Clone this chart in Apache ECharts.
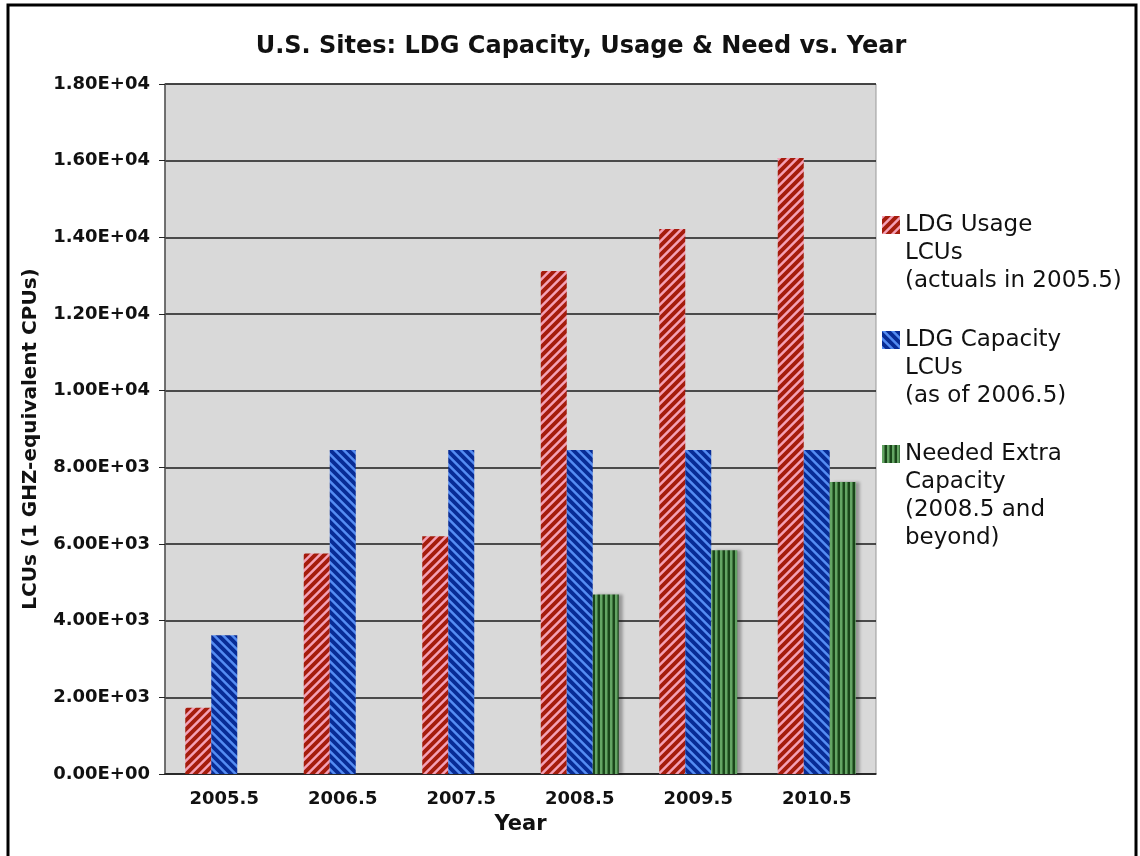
<!DOCTYPE html>
<html>
<head>
<meta charset="utf-8">
<script src="https://cdn.jsdelivr.net/npm/echarts@6/dist/echarts.min.js"></script>
<style>
html, body { margin: 0; padding: 0; background: #fff; }
#main { width: 1140px; height: 856px; }
</style>
</head>
<body>
<div id="main"></div>
<script>
var years = ['2005.5', '2006.5', '2007.5', '2008.5', '2009.5', '2010.5'];
var usage = [1730, 5750, 6200, 13120, 14220, 16070];
var capacity = [3620, 8450, 8450, 8450, 8450, 8450];
var needed = [null, null, null, 4680, 5840, 7620];
var yTicks = { min: 0, max: 18000, interval: 2000 };

var seriesNames = [
    '\n\nLDG Usage\nLCUs\n(actuals in 2005.5)',
    '\n\nLDG Capacity\nLCUs\n(as of 2006.5)',
    '\n\n\nNeeded Extra\nCapacity\n(2008.5 and\nbeyond)'
];

// stripe tiles for the hatched bars
function makeTile(p, dark, light, lightW, mode) {
    var c = document.createElement('canvas');
    c.width = p; c.height = p;
    var ctx = c.getContext('2d');
    var img = ctx.createImageData(p, p);
    var ss = 4;
    for (var y = 0; y < p; y++) {
        for (var x = 0; x < p; x++) {
            var hit = 0;
            for (var sy = 0; sy < ss; sy++) {
                for (var sx = 0; sx < ss; sx++) {
                    var fx = x + (sx + 0.5) / ss, fy = y + (sy + 0.5) / ss;
                    var t;
                    if (mode == 'up') t = fx + fy;
                    else if (mode == 'down') t = fx - fy + p * 4;
                    else t = fx;
                    if ((t % p) < lightW) hit++;
                }
            }
            var a = hit / (ss * ss);
            var k = (y * p + x) * 4;
            for (var j = 0; j < 3; j++) {
                img.data[k + j] = Math.round(dark[j] * (1 - a) + light[j] * a);
            }
            img.data[k + 3] = 255;
        }
    }
    ctx.putImageData(img, 0, 0);
    return c;
}

var redTile = makeTile(9, [165, 28, 12], [244, 160, 182], 3.5, 'up');
var blueTile = makeTile(9, [8, 44, 150], [84, 140, 242], 3.5, 'down');
var greenTile = makeTile(5, [26, 70, 26], [100, 165, 100], 2.4, 'vert');

function sci(v) {
    if (v === 0) return '0.00E+00';
    var e = Math.floor(Math.log10(v));
    var m = v / Math.pow(10, e);
    return m.toFixed(2) + 'E+' + (e < 10 ? '0' + e : e);
}

var myChart = echarts.init(document.getElementById('main'));

function legendAt(name, top) {
    return {
        data: [{ name: name, icon: 'rect' }],
        orient: 'vertical',
        left: 882,
        top: top,
        padding: 0,
        itemWidth: 18,
        itemHeight: 18,
        selectedMode: false,
        textStyle: {
            fontFamily: 'DejaVu Sans',
            fontSize: 23,
            lineHeight: 28,
            color: '#111'
        }
    };
}

var option = {
    backgroundColor: '#fff',
    title: {
        text: 'U.S. Sites: LDG Capacity, Usage & Need vs. Year',
        left: 576,
        textAlign: 'center',
        top: 30,
        textStyle: {
            fontFamily: 'DejaVu Sans',
            fontWeight: 'bold',
            fontSize: 24,
            color: '#111'
        }
    },
    legend: [
        legendAt(seriesNames[0], 224 - 69),
        legendAt(seriesNames[1], 339 - 69),
        legendAt(seriesNames[2], 453 - 97)
    ],
    grid: {
        left: 165,
        right: 264,
        top: 84,
        bottom: 82,
        show: true,
        backgroundColor: '#d9d9d9',
        borderColor: '#999',
        borderWidth: 1
    },
    graphic: [{
        type: 'rect',
        shape: { x: 8, y: 5, width: 1128, height: 900 },
        style: { fill: 'none', stroke: '#000', lineWidth: 3 },
        silent: true,
        z: 100
    }],
    xAxis: {
        type: 'category',
        data: years,
        name: 'Year',
        nameLocation: 'middle',
        nameGap: 40,
        nameTextStyle: {
            fontFamily: 'DejaVu Sans',
            fontWeight: 'bold',
            fontSize: 21,
            color: '#111'
        },
        axisLine: { lineStyle: { color: '#222', width: 1.5 } },
        axisTick: { length: 6, lineStyle: { color: '#222' } },
        axisLabel: {
            margin: 16,
            fontFamily: 'DejaVu Sans',
            fontWeight: 'bold',
            fontSize: 18,
            color: '#111'
        }
    },
    yAxis: {
        type: 'value',
        min: yTicks.min,
        max: yTicks.max,
        interval: yTicks.interval,
        name: 'LCUs (1 GHZ-equivalent CPUs)',
        nameLocation: 'middle',
        nameGap: 124,
        nameTextStyle: {
            fontFamily: 'DejaVu Sans',
            fontWeight: 'bold',
            fontSize: 20,
            color: '#111',
            padding: [0, 20, 0, 0]
        },
        axisLine: { show: true, lineStyle: { color: '#555', width: 1.5 } },
        axisTick: { show: true, length: 6, lineStyle: { color: '#222' } },
        splitLine: { lineStyle: { color: '#1a1a1a', width: 1.5 } },
        axisLabel: {
            margin: 15,
            fontFamily: 'DejaVu Sans',
            fontWeight: 'bold',
            fontSize: 18,
            color: '#111',
            formatter: sci
        }
    },
    series: [{
        name: seriesNames[0],
        type: 'bar',
        data: usage,
        barWidth: 26,
        barGap: '0%',
        itemStyle: { color: { image: redTile, repeat: 'repeat' } }
    }, {
        name: seriesNames[1],
        type: 'bar',
        data: capacity,
        barWidth: 26,
        barGap: '0%',
        itemStyle: { color: { image: blueTile, repeat: 'repeat' } }
    }, {
        name: seriesNames[2],
        type: 'bar',
        data: needed,
        barWidth: 26,
        barGap: '0%',
        itemStyle: {
            color: { image: greenTile, repeat: 'repeat' },
            shadowColor: 'rgba(0,0,0,0.3)',
            shadowOffsetX: 4,
            shadowBlur: 3
        }
    }]
};
myChart.setOption(option);
</script>
</body>
</html>
